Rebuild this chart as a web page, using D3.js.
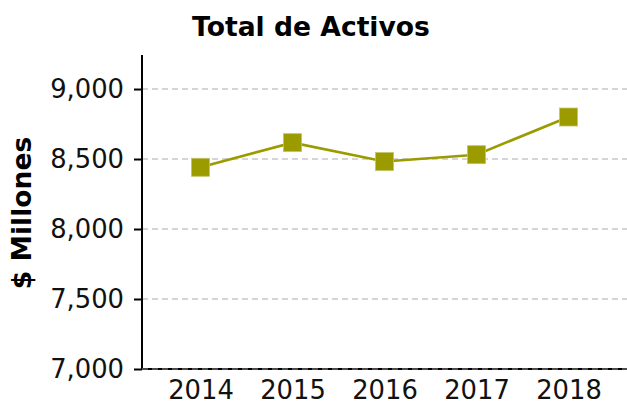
<!DOCTYPE html>
<html>
<head>
<meta charset="utf-8">
<script src="https://cdn.jsdelivr.net/npm/d3@7"></script>
<style>
  body { margin: 0; background: #fff; }
  svg { display: block; font-family: "DejaVu Sans", sans-serif; }
</style>
</head>
<body>
<script>
// data
var years = ["2014", "2015", "2016", "2017", "2018"];
var activos = [8441, 8617, 8482, 8531, 8800];
var yTicks = [7000, 7500, 8000, 8500, 9000];

var w = 627, h = 409;
var plotLeft = 142, plotRight = 627, plotTop = 55, plotBottom = 369;

var svg = d3.select("body").append("svg")
  .attr("width", w)
  .attr("height", h);

var xScale = d3.scalePoint()
  .domain(years)
  .range([plotLeft, plotRight])
  .padding(0.636);

var yScale = d3.scaleLinear()
  .domain([7000, 9243])
  .range([plotBottom, plotTop]);

// grid lines
svg.append("g")
  .selectAll("line")
  .data(yTicks)
  .enter()
  .append("line")
  .attr("x1", plotLeft)
  .attr("x2", plotRight)
  .attr("y1", d => yScale(d))
  .attr("y2", d => yScale(d))
  .attr("stroke", "#c8c8c8")
  .attr("stroke-width", 1.3)
  .attr("stroke-dasharray", "6,4");

// y axis
var yAxis = d3.axisLeft(yScale)
  .tickValues(yTicks)
  .tickFormat(d3.format(","))
  .tickSize(8)
  .tickPadding(10);

var gy = svg.append("g")
  .attr("transform", "translate(" + plotLeft + ",0)")
  .call(yAxis);
gy.select(".domain").remove();
gy.selectAll(".tick line").attr("stroke", "#000").attr("stroke-width", 2);
gy.selectAll(".tick text")
  .attr("font-size", 25.8)
  .attr("font-family", "DejaVu Sans")
  .attr("fill", "#111");

// x axis
var xAxis = d3.axisBottom(xScale).tickSize(0).tickPadding(12);
var gx = svg.append("g")
  .attr("transform", "translate(0," + plotBottom + ")")
  .call(xAxis);
gx.select(".domain").remove();
gx.selectAll(".tick text")
  .attr("font-size", 25.8)
  .attr("font-family", "DejaVu Sans")
  .attr("fill", "#111");

// spines
svg.append("line")
  .attr("x1", plotLeft).attr("x2", plotLeft)
  .attr("y1", plotTop).attr("y2", plotBottom + 1)
  .attr("stroke", "#000").attr("stroke-width", 2);
svg.append("line")
  .attr("x1", plotLeft - 1).attr("x2", plotRight)
  .attr("y1", plotBottom).attr("y2", plotBottom)
  .attr("stroke", "#000").attr("stroke-width", 2);
svg.append("line")
  .attr("x1", plotLeft).attr("x2", plotRight)
  .attr("y1", plotBottom).attr("y2", plotBottom)
  .attr("stroke", "#999").attr("stroke-width", 1.2)
  .attr("stroke-dasharray", "6,4");

// line + markers
var line = d3.line()
  .x((d, i) => xScale(years[i]))
  .y(d => yScale(d));

svg.append("path")
  .datum(activos)
  .attr("d", line)
  .attr("fill", "none")
  .attr("stroke", "#9b9b00")
  .attr("stroke-width", 2.6);

var ms = 18;
svg.selectAll("rect.pt")
  .data(activos)
  .enter()
  .append("rect")
  .attr("class", "pt")
  .attr("x", (d, i) => xScale(years[i]) - ms / 2)
  .attr("y", d => yScale(d) - ms / 2)
  .attr("width", ms)
  .attr("height", ms)
  .attr("fill", "#9b9b00")
  .attr("stroke", "#c4c46a")
  .attr("stroke-width", 0.8);

// title
svg.append("text")
  .attr("x", 311)
  .attr("y", 36)
  .attr("text-anchor", "middle")
  .attr("font-size", 26.6)
  .attr("font-weight", "bold")
  .attr("fill", "#000")
  .text("Total de Activos");

// y label
svg.append("text")
  .attr("transform", "translate(31,213) rotate(-90)")
  .attr("text-anchor", "middle")
  .attr("font-size", 26.6)
  .attr("font-weight", "bold")
  .attr("fill", "#000")
  .text("$ Millones");
</script>
</body>
</html>
